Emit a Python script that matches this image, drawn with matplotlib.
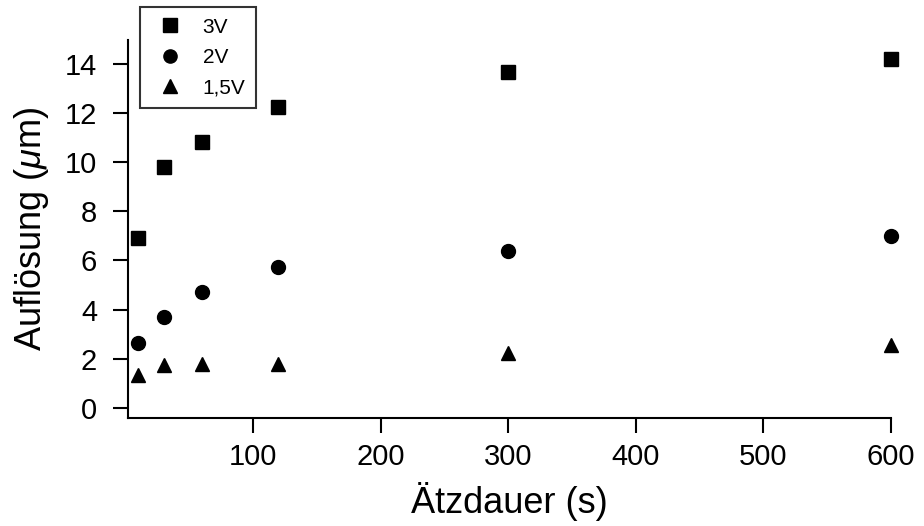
import matplotlib
matplotlib.use("Agg")
import matplotlib.pyplot as plt
from matplotlib.lines import Line2D

# Data
etch_time = [10, 30, 60, 120, 300, 600]
res_3V = [6.9, 9.8, 10.8, 12.25, 13.65, 14.2]
res_2V = [2.65, 3.7, 4.7, 5.75, 6.4, 7.0]
res_15V = [1.35, 1.75, 1.8, 1.8, 2.25, 2.55]
series_labels = ["3V", "2V", "1,5V"]
x_ticks = [100, 200, 300, 400, 500, 600]
y_ticks = [0, 2, 4, 6, 8, 10, 12, 14]

plt.rcParams['font.family'] = ['Liberation Sans', 'DejaVu Sans']
plt.rcParams['mathtext.fontset'] = 'custom'
plt.rcParams['mathtext.it'] = 'Liberation Sans:italic'
plt.rcParams['mathtext.rm'] = 'Liberation Sans'

fig = plt.figure(figsize=(9.24, 5.26), dpi=100)
ax = fig.add_axes([127.7/924, 1-418/526, (891-127.7)/924, (418-40.2)/526])

ms = 10
ax.plot(etch_time, res_3V, 's', color='black', markersize=ms, label=series_labels[0], clip_on=False)
ax.plot(etch_time, res_2V, 'o', color='black', markersize=ms, label=series_labels[1], clip_on=False)
ax.plot(etch_time, res_15V, '^', color='black', markersize=ms, label=series_labels[2], clip_on=False)

ax.set_xlim(1.9, 600)
ax.set_ylim(-0.4, 14.95)
ax.set_xticks(x_ticks)
ax.set_yticks(y_ticks)

for s in ['top', 'right']:
    ax.spines[s].set_visible(False)
for s in ['left', 'bottom']:
    ax.spines[s].set_linewidth(1.5)

ax.tick_params(axis='both', direction='out', length=11, width=1.5, labelsize=21, colors='black')
ax.tick_params(axis='y', pad=11)
ax.tick_params(axis='x', pad=7)

ax.set_xlabel('Ätzdauer (s)', fontsize=26, labelpad=8)
ax.set_ylabel(r'Auflösung ($\mu$m)', fontsize=26, labelpad=10)

handles = [
    Line2D([], [], marker='s', color='black', linestyle='none', markersize=9.5),
    Line2D([], [], marker='o', color='black', linestyle='none', markersize=9.5),
    Line2D([], [], marker='^', color='black', linestyle='none', markersize=9.5),
]
leg = fig.legend(handles, series_labels, loc='upper left',
                 bbox_to_anchor=(140/924, 1-7.3/526), bbox_transform=fig.transFigure,
                 frameon=True, fancybox=False, edgecolor='black', borderpad=0.5,
                 prop={'family': ['Liberation Sans', 'DejaVu Sans'], 'size': 15},
                 handlelength=1.9, handletextpad=0.6, labelspacing=0.55, borderaxespad=0)
leg.get_frame().set_linewidth(1.5)

fig.savefig('out.png', dpi=100)
